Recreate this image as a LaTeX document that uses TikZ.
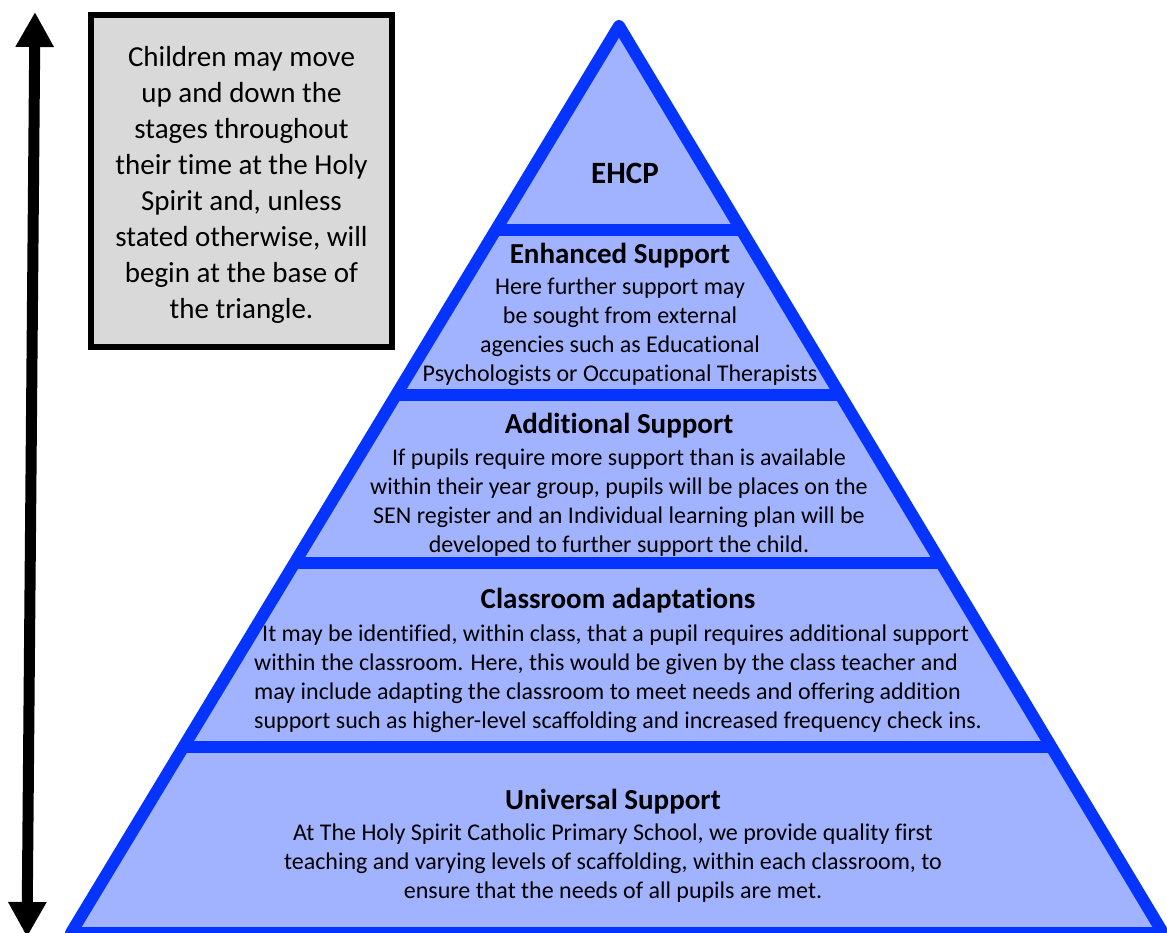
\documentclass[tikz,border=0pt]{standalone}
\usepackage{fontspec}
\setmainfont[Ligatures=NoCommon]{Carlito}
\usetikzlibrary{arrows.meta}
\definecolor{pyrblue}{RGB}{5,51,255}
\definecolor{pyrfill}{RGB}{161,179,255}
\definecolor{boxgray}{RGB}{217,217,217}
\tikzset{
  ttl/.style={font=\bfseries\fontsize{29}{35}\selectfont, inner sep=0pt},
  bodytxt/.style={font=\fontsize{24}{29}\selectfont, align=center, inner sep=0pt},
  divline/.style={pyrblue, line width=12pt},
  notebox/.style={draw=black, line width=6pt, fill=boxgray, minimum width=301pt, minimum height=332pt, inner sep=0pt},
  notetxt/.style={inner sep=0pt, align=center, font=\fontsize{29}{36}\selectfont},
  bigarrow/.style={line width=11pt, {Triangle[width=36pt,length=35pt]}-{Triangle[width=36pt,length=35pt]}}
}
\begin{document}
\begin{tikzpicture}[x=1pt,y=-1pt]
\useasboundingbox (0,0) rectangle (1167,932);
% pyramid
\coordinate (apex) at (619,26);
\coordinate (bl) at (71,933);
\coordinate (br) at (1163,933);
\fill[pyrfill] (apex) -- (bl) -- (br) -- cycle;
\begin{scope}
  \clip (apex) -- (bl) -- (br) -- cycle;
  \foreach \yy in {230,395,563,747} \draw[divline] (0,\yy) -- (1167,\yy);
\end{scope}
\draw[pyrblue, line width=12pt, line join=round] (apex) -- (bl) -- (br) -- cycle;
% texts
\node[ttl, font=\bfseries\fontsize{31}{37}\selectfont] (t1) at (625,173) {EHCP};
\node[ttl] (t2) at (620,256) {Enhanced Support};
\node[bodytxt] (b2) at (620,332) {Here further support may\\be sought from external\\agencies such as Educational\\Psychologists or Occupational Therapists};
\node[ttl] (t3) at (619,426) {Additional Support};
\node[bodytxt] (b3) at (619,503) {If pupils require more support than is available\\within their year group, pupils will be places on the\\SEN register and an Individual learning plan will be\\developed to further support the child.};
\node[ttl] (t4) at (618,601) {Classroom adaptations};
\node[bodytxt, align=left, anchor=west] (b4) at (254,679) {\hspace*{8pt}It may be identified, within class, that a pupil requires additional support\\within the classroom. Here, this would be given by the class teacher and\\may include adapting the classroom to meet needs and offering addition\\support such as higher-level scaffolding and increased frequency check ins.};
\node[ttl] (t5) at (613,802) {Universal Support};
\node[bodytxt] (b5) at (613,863) {At The Holy Spirit Catholic Primary School, we provide quality first\\teaching and varying levels of scaffolding, within each classroom, to\\ensure that the needs of all pupils are met.};
% note box
\node[notebox] (note) at (241.5,181) {};
\node[notetxt] (notetext) at (241.5,185) {Children may move\\up and down the\\stages throughout\\their time at the Holy\\Spirit and, unless\\stated otherwise, will\\begin at the base of\\the triangle.};
% arrow
\coordinate (atop) at (35,12);
\coordinate (abot) at (27,937);
\draw[bigarrow] (atop) -- (abot);
\end{tikzpicture}
\end{document}
